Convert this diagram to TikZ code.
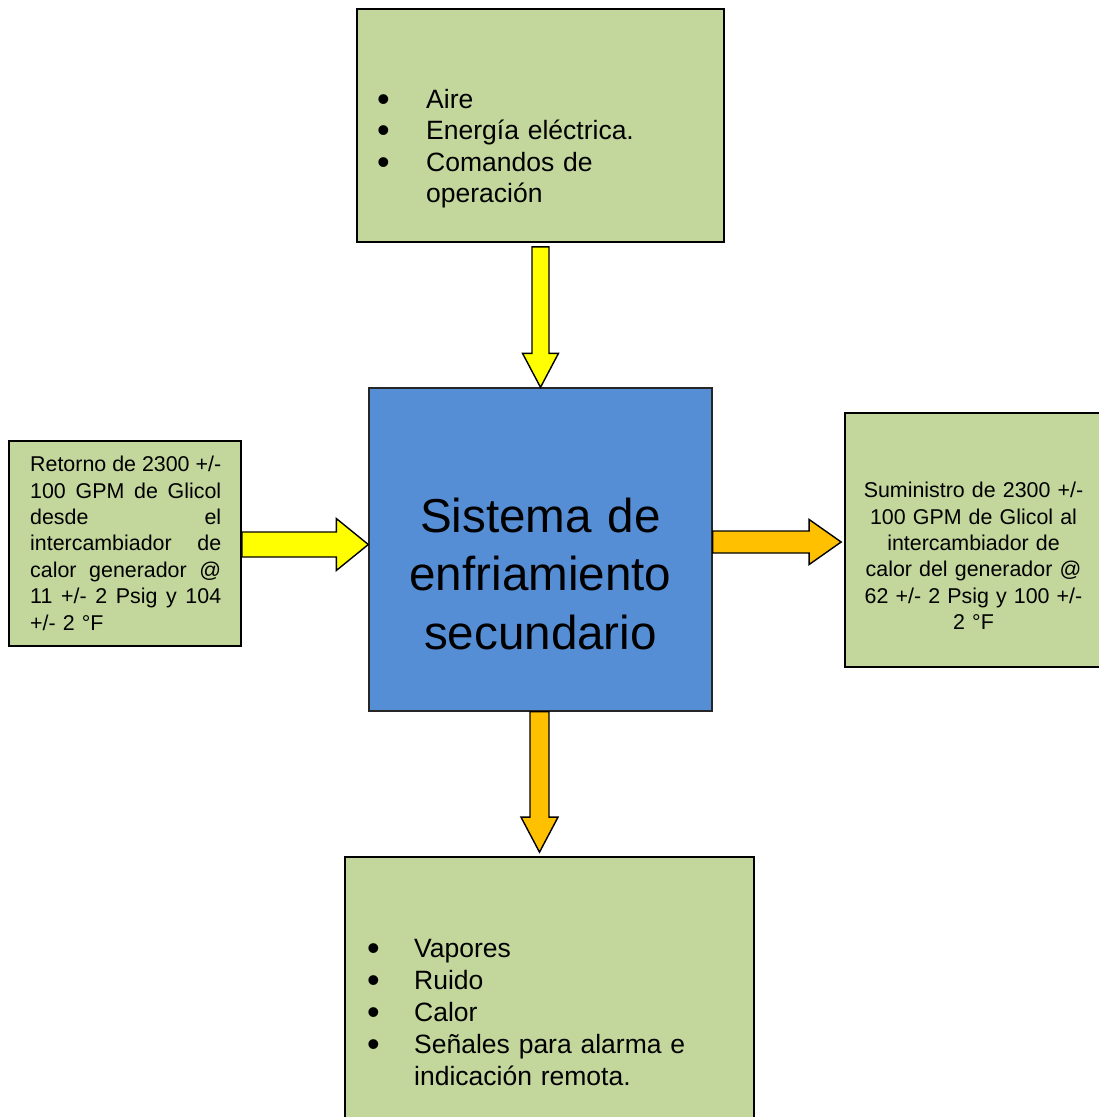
\documentclass[tikz,border=0pt]{standalone}
\usepackage{fontspec}
\setmainfont{Liberation Sans}
\usetikzlibrary{calc}
\definecolor{boxgreen}{HTML}{C3D69B}
\definecolor{coreblue}{HTML}{558ED5}
\definecolor{flowyellow}{HTML}{FFFF00}
\definecolor{floworange}{HTML}{FFC000}
% list bullet, a little heavier than the text bullet (no height, so it never pushes lines)
\newcommand\listdot{\raisebox{-3.2pt}[0pt][0pt]{\fontsize{36}{36}\selectfont •}}
% justified line of fixed width
\newcommand\fullline[1]{\leavevmode\hbox to 191pt{#1}}

\begin{document}
\begin{tikzpicture}[x=1pt,y=-1pt,
  panel/.style={draw=black,line width=1.7pt,fill=boxgreen,inner sep=0pt,rectangle},
  corebox/.style={draw=black!85,line width=1.4pt,fill=coreblue,inner sep=0pt,rectangle},
  fatarrow/.style={draw=black,line width=1.4pt,line join=miter},
  smalltxt/.style={inner sep=0pt,font=\fontsize{21.4}{26.4}\selectfont},
  listtxt/.style={inner sep=0pt,anchor=base west,text width=330pt,align=left,
    font=\fontsize{26.5}{31.6}\selectfont},
  bigtxt/.style={inner sep=0pt,anchor=base,text width=330pt,align=center,
    font=\fontsize{47.6}{58.7}\selectfont},
]
\clip (0,0) rectangle (1099,1117);
\fill[white] (0,0) rectangle (1099,1117);

% blocks
\node[panel,minimum width=367pt,minimum height=233pt] (inputs) at (540.5,125.5) {};
\node[corebox,minimum width=343pt,minimum height=323pt] (core) at (540.5,549.5) {};
\node[panel,minimum width=232pt,minimum height=205pt] (ret) at (125,543.5) {};
\node[panel,minimum width=257pt,minimum height=254pt] (sup) at (973.5,540) {};
\node[panel,minimum width=409pt,minimum height=268pt] (outputs) at (549.5,991) {};

% block arrows
\draw[fatarrow,fill=flowyellow] let \p1=(inputs.south), \p2=(core.north) in
  (\x2-8.5pt,\y1-4pt) -- (\x2-8.5pt,\y2+34pt) -- (\x2-18pt,\y2+34pt) -- (\x2,\y2)
  -- (\x2+18pt,\y2+34pt) -- (\x2+8.5pt,\y2+34pt) -- (\x2+8.5pt,\y1-4pt) -- cycle;
\draw[fatarrow,fill=floworange] let \p1=(core.south), \p2=(outputs.north) in
  (\x1-10.5pt,\y1) -- (\x1-10.5pt,\y2+39pt) -- (\x1-19.5pt,\y2+39pt) -- (\x1-1pt,\y2+4pt)
  -- (\x1+17.5pt,\y2+39pt) -- (\x1+8.5pt,\y2+39pt) -- (\x1+8.5pt,\y1) -- cycle;
\draw[fatarrow,fill=flowyellow] let \p1=(ret.east), \p2=(core.west) in
  (\x1,\y1-1pt+12.5pt) -- (\x2-32pt,\y1-1pt+12.5pt) -- (\x2-32pt,\y1-1pt+26pt) -- (\x2,\y1-1pt)
  -- (\x2-32pt,\y1-1pt-26pt) -- (\x2-32pt,\y1-1pt-12.5pt) -- (\x1,\y1-1pt-12.5pt) -- cycle;
\draw[fatarrow,fill=floworange] let \p1=(core.east), \p2=(sup.west) in
  (\x1,\y2-2pt+11pt) -- (\x2-35pt,\y2-2pt+11pt) -- (\x2-35pt,\y2-2pt+22.5pt) -- (\x2-3pt,\y2-2pt)
  -- (\x2-35pt,\y2-2pt-22.5pt) -- (\x2-35pt,\y2-2pt-11pt) -- (\x1,\y2-2pt-11pt) -- cycle;

% texts
\node[listtxt] (inputlist) at (377,108)
  {\makebox[49pt][l]{\listdot}Aire\\
   \makebox[49pt][l]{\listdot}Energía eléctrica.\\
   \makebox[49pt][l]{\listdot}Comandos de\\
   \makebox[49pt][l]{}operación};
\node[bigtxt] (coretext) at (540.5,532)
  {Sistema de\\enfriamiento\\secundario};
\node[smalltxt,anchor=base west,text width=200pt,align=left] (rettext) at (30,471.7)
  {\fullline{Retorno\hfill de\hfill 2300\hfill +/-}\\
   \fullline{100\hfill GPM\hfill de\hfill Glicol}\\
   \fullline{desde\hfill el}\\
   \fullline{intercambiador\hfill de}\\
   \fullline{calor\hfill generador\hfill @}\\
   \fullline{11\hfill +/-\hfill 2\hfill Psig\hfill y\hfill 104}\\
   +/- 2 °F};
\node[smalltxt,anchor=base,text width=250pt,align=center] (suptext) at (973.5,497.7)
  {Suministro de 2300 +/-\\100 GPM de Glicol al\\intercambiador de\\calor del generador @\\62 +/- 2 Psig y 100 +/-\\2 °F};
\node[listtxt,font=\fontsize{26.5}{32}\selectfont] (outputlist) at (367,957)
  {\makebox[47pt][l]{\listdot}Vapores\\
   \makebox[47pt][l]{\listdot}Ruido\\
   \makebox[47pt][l]{\listdot}Calor\\
   \makebox[47pt][l]{\listdot}Señales para alarma e\\
   \makebox[47pt][l]{}indicación remota.};
\end{tikzpicture}
\end{document}
